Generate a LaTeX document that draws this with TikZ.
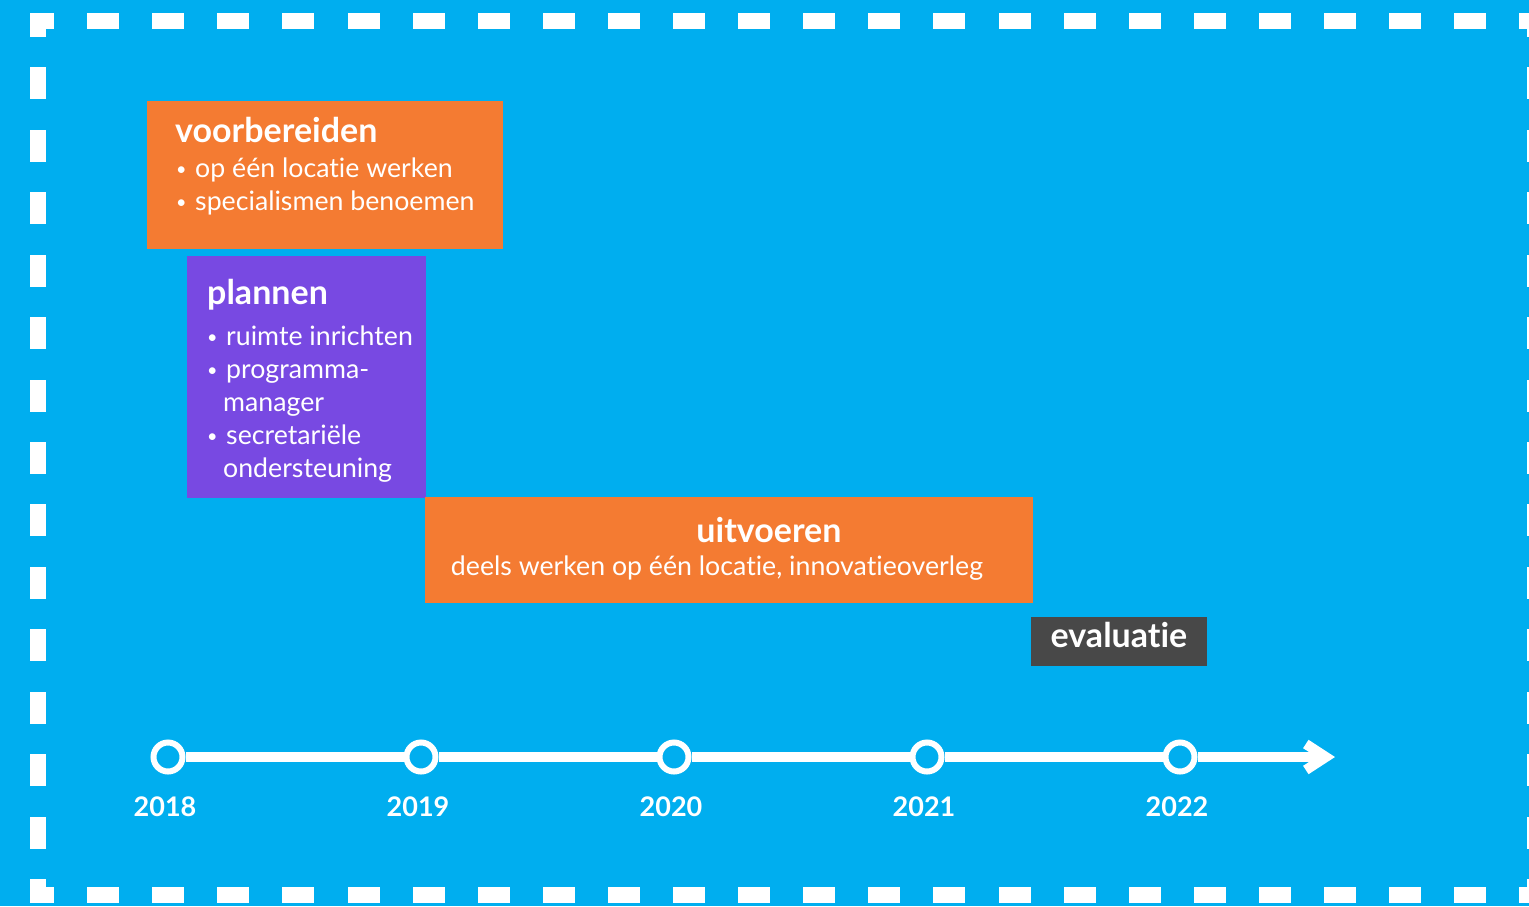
\documentclass[tikz,border=0pt]{standalone}
\usepackage{fontspec}
\setmainfont{Lato}[Ligatures=NoCommon]
\usepackage{xcolor}
\usetikzlibrary{arrows.meta}
\usetikzlibrary{positioning}
\definecolor{skyblue}{RGB}{0,174,239}
\definecolor{phaseorange}{RGB}{244,123,50}
\definecolor{phasepurple}{RGB}{120,73,226}
\definecolor{evalgray}{RGB}{72,72,72}
\newcommand{\blt}{\makebox[19pt][l]{\raisebox{2pt}{\fontsize{18}{18}\selectfont\textbullet}}}
\tikzset{phase/.style = {anchor=north west, inner sep=0pt, outer sep=0pt}}
\tikzset{phasetitle/.style = {anchor=base west, inner sep=0pt, text=white, font=\bfseries\fontsize{34}{40}\selectfont}}
\tikzset{items/.style = {anchor=base west, inner sep=0pt, text=white, align=left, font=\fontsize{26.7}{33}\selectfont}}
\tikzset{year/.style = {circle, draw=white, line width=6pt, fill=skyblue, minimum size=29pt, inner sep=0pt}}
\tikzset{yearlabel/.style = {anchor=base, inner sep=0pt, text=white, font=\bfseries\fontsize{27}{30}\selectfont}}
\tikzset{dashframe/.style = {draw=white, line width=16pt, line cap=rect}}

\begin{document}
\begin{tikzpicture}[x=1pt, y=-1pt]
                \fill[skyblue] (0,0) rectangle (1529,906);
                \useasboundingbox (0,0) rectangle (1529,906);
                \clip (0,0) rectangle (1529,906);

                \draw[dashframe, dash pattern=on 16pt off 49.1pt, dash phase=8pt] (38,21) -- (1535,21);
                \draw[dashframe, dash pattern=on 16pt off 49.1pt, dash phase=8pt] (38,895) -- (1535,895);
                \draw[dashframe, dash pattern=on 16pt off 46.43pt, dash phase=8pt] (38,21) -- (38,895);
                \draw[dashframe, dash pattern=on 16pt off 46.43pt, dash phase=8pt] (1535,21) -- (1535,895);

                \node[phase, fill=phaseorange, minimum width=356pt, minimum height=148pt] (voorbereiden) at (147,101) {};
                \node[phase, fill=phasepurple, minimum width=239pt, minimum height=242pt] (plannen) at (187,256) {};
                \node[phase, fill=phaseorange, minimum width=608pt, minimum height=106pt] (uitvoeren) at (425,497) {};
                \node[phase, fill=evalgray, minimum width=176pt, minimum height=49pt] (evaluatie) at (1031,617) {};

                \node[phasetitle] (voorbereiden-titel) at (175,142) {voorbereiden};
                \node[items] (voorbereiden-lijst) at (176,210) {\blt op één locatie werken\\ \blt specialismen benoemen};
                \node[phasetitle] (plannen-titel) at (207,304) {plannen};
                \node[items] (plannen-lijst) at (207,477) {\blt ruimte inrichten\\ \blt programma-\\ \hspace*{16pt}manager\\ \blt secretariële\\ \hspace*{16pt}ondersteuning};
                \node[phasetitle, anchor=base] (uitvoeren-titel) at (769,542) {uitvoeren};
                \node[items, anchor=base] (uitvoeren-tekst) at (717,575) {deels werken op één locatie, innovatieoverleg};
                \node[phasetitle, anchor=base] (evaluatie-titel) at (1119,647) {evaluatie};

                \node[year] (j2018) at (168,757) {};
                \node[year] (j2019) at (421,757) {};
                \node[year] (j2020) at (674,757) {};
                \node[year] (j2021) at (927,757) {};
                \node[year] (j2022) at (1180,757) {};
                \coordinate (einde) at (1335,757);

                \draw[white, line width=10pt] (j2018) -- (j2019);
                \draw[white, line width=10pt] (j2019) -- (j2020);
                \draw[white, line width=10pt] (j2020) -- (j2021);
                \draw[white, line width=10pt] (j2021) -- (j2022);
                \draw[white, line width=10pt, -{Straight Barb[sharp, length=20pt, width=26pt]}] (j2022) -- (einde);

                \node[yearlabel] (t2018) at (165,816) {2018};
                \node[yearlabel] (t2019) at (418,816) {2019};
                \node[yearlabel] (t2020) at (671,816) {2020};
                \node[yearlabel] (t2021) at (924,816) {2021};
                \node[yearlabel] (t2022) at (1177,816) {2022};
            \end{tikzpicture}
\end{document}
